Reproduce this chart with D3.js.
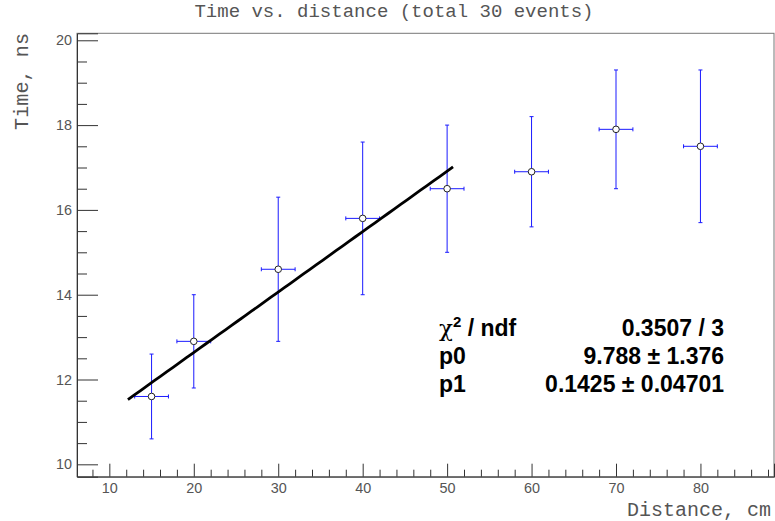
<!DOCTYPE html>
<html>
<head>
<meta charset="utf-8">
<script src="https://cdn.jsdelivr.net/npm/d3@7"></script>
<style>
  html, body { margin: 0; padding: 0; background: #fff; }
  svg { display: block; }
</style>
</head>
<body>
<svg id="chart" width="775" height="521"></svg>
<script>
// ---- data ----
const distance = [15, 20, 30, 40, 50, 60, 70, 80];
const time     = [11.6, 12.9, 14.6, 15.8, 16.5, 16.9, 17.9, 17.5];
const distErr  = [2, 2, 2, 2, 2, 2, 2, 2];
const timeErr  = [1.0, 1.1, 1.7, 1.8, 1.5, 1.3, 1.4, 1.8];
const xLimits  = [6.17, 88.71];
const yLimits  = [9.708, 20.165];
const xMajorTicks = [10, 20, 30, 40, 50, 60, 70, 80];
const yMajorTicks = [10, 12, 14, 16, 18, 20];
const fitParams = { p0: 9.788, p1: 0.1425 };
const fitRange  = [12.2, 50.7];
const statLabels = ["χ2 / ndf", "p0", "p1"];
const statValues = ["0.3507 / 3", "9.788 ± 1.376", "0.1425 ± 0.04701"];
const titleText = "Time vs. distance (total 30 events)";
const xTitle = "Distance, cm";
const yTitle = "Time, ns";

// ---- layout ----
const frame = { left: 77, right: 774, top: 33.3, bottom: 476.7 };
const svg = d3.select("#chart");

const x = d3.scaleLinear().domain(xLimits).range([frame.left, frame.right]);
const y = d3.scaleLinear().domain(yLimits).range([frame.bottom, frame.top]);

// frame
svg.append("rect")
  .attr("x", frame.left).attr("y", frame.top)
  .attr("width", frame.right - frame.left).attr("height", frame.bottom - frame.top)
  .attr("fill", "none").attr("stroke", "#777").attr("stroke-width", 1);

const labelFont = "'Liberation Sans', Arial, Helvetica, sans-serif";
const monoFont = "'Liberation Mono', 'Courier New', Courier, monospace";

// x minor ticks
const xMinor = d3.range(8, 89, 2).filter(v => !xMajorTicks.includes(v));
svg.append("g").attr("transform", `translate(0,${frame.bottom})`)
  .call(d3.axisBottom(x).tickValues(xMinor).tickSize(-7).tickFormat(""))
  .call(g => g.select(".domain").remove())
  .call(g => g.selectAll("line").attr("stroke", "#333"));
// x major
svg.append("g").attr("transform", `translate(0,${frame.bottom})`)
  .call(d3.axisBottom(x).tickValues(xMajorTicks).tickSize(-13).tickPadding(5.6).tickFormat(d3.format("d")))
  .call(g => g.select(".domain").attr("stroke", "#333"))
  .call(g => g.selectAll("line").attr("stroke", "#333"))
  .call(g => g.selectAll("text").attr("font-family", labelFont).attr("font-size", 14.4).attr("fill", "#555"));

// y minor ticks
const yMinor = d3.range(10, 20.01, 0.5).filter(v => !yMajorTicks.includes(v));
svg.append("g").attr("transform", `translate(${frame.left},0)`)
  .call(d3.axisLeft(y).tickValues(yMinor).tickSize(-10).tickFormat(""))
  .call(g => g.select(".domain").remove())
  .call(g => g.selectAll("line").attr("stroke", "#333"));
// y major
svg.append("g").attr("transform", `translate(${frame.left},0)`)
  .call(d3.axisLeft(y).tickValues(yMajorTicks).tickSize(-21).tickPadding(5).tickFormat(d3.format("d")))
  .call(g => g.select(".domain").attr("stroke", "#333"))
  .call(g => g.selectAll("line").attr("stroke", "#333"))
  .call(g => g.selectAll("text").attr("font-family", labelFont).attr("font-size", 14.4).attr("fill", "#555"));

// titles
svg.append("text").attr("x", 394).attr("y", 16.7)
  .attr("text-anchor", "middle").attr("font-family", monoFont).attr("font-size", 19)
  .attr("fill", "#555").text(titleText);
svg.append("text").attr("x", 771).attr("y", 516)
  .attr("text-anchor", "end").attr("font-family", monoFont).attr("font-size", 20)
  .attr("fill", "#555").text(xTitle);
svg.append("text").attr("transform", "translate(28,33) rotate(-90)")
  .attr("text-anchor", "end").attr("font-family", monoFont).attr("font-size", 20.2)
  .attr("fill", "#555").text(yTitle);

// data points with error bars
const pts = distance.map((d, i) => ({ x: d, y: time[i], ex: distErr[i], ey: timeErr[i] }));
const r = 3.3;
const errColor = "#1a1aff";
const cap = 2;
const gp = svg.append("g");
pts.forEach(p => {
  const cx = x(p.x), cy = y(p.y);
  const g = gp.append("g").attr("stroke", errColor).attr("stroke-width", 1).attr("fill", "none");
  g.append("line").attr("x1", cx).attr("x2", cx).attr("y1", y(p.y + p.ey)).attr("y2", cy - r);
  g.append("line").attr("x1", cx).attr("x2", cx).attr("y1", cy + r).attr("y2", y(p.y - p.ey));
  g.append("line").attr("y1", cy).attr("y2", cy).attr("x1", x(p.x - p.ex)).attr("x2", cx - r);
  g.append("line").attr("y1", cy).attr("y2", cy).attr("x1", cx + r).attr("x2", x(p.x + p.ex));
  [p.y + p.ey, p.y - p.ey].forEach(v => g.append("line")
    .attr("x1", cx - cap).attr("x2", cx + cap).attr("y1", y(v)).attr("y2", y(v)));
  [p.x - p.ex, p.x + p.ex].forEach(v => g.append("line")
    .attr("y1", cy - cap).attr("y2", cy + cap).attr("x1", x(v)).attr("x2", x(v)));
});

// fit line
const fitX = d3.range(fitRange[0], fitRange[1] + 0.001, (fitRange[1] - fitRange[0]) / 50);
const line = d3.line().x(d => x(d)).y(d => y(fitParams.p0 + fitParams.p1 * d));
svg.append("path").datum(fitX).attr("d", line)
  .attr("fill", "none").attr("stroke", "#000").attr("stroke-width", 2.8);

// markers
svg.append("g").selectAll("circle").data(pts).join("circle")
  .attr("cx", d => x(d.x)).attr("cy", d => y(d.y)).attr("r", r)
  .attr("fill", "none").attr("stroke", "#222").attr("stroke-width", 1);

// stats text
const statBase = [336, 364, 392];
const sg = svg.append("g").attr("font-family", labelFont).attr("font-weight", "bold")
  .attr("font-size", 23).attr("fill", "#000");
statLabels.forEach((t, i) => {
  const tx = sg.append("text").attr("x", 439).attr("y", statBase[i]);
  if (t.startsWith("χ2")) {
    tx.append("tspan").attr("font-weight", "normal").attr("font-family", "'DejaVu Serif', serif").text("χ");
    tx.append("tspan").attr("font-size", 15).attr("dy", -9).text("2");
    tx.append("tspan").attr("dy", 9).text(t.slice(2));
  } else {
    tx.text(t);
  }
});
statValues.forEach((t, i) => sg.append("text").attr("x", 724).attr("y", statBase[i])
  .attr("text-anchor", "end").text(t));
</script>
</body>
</html>
